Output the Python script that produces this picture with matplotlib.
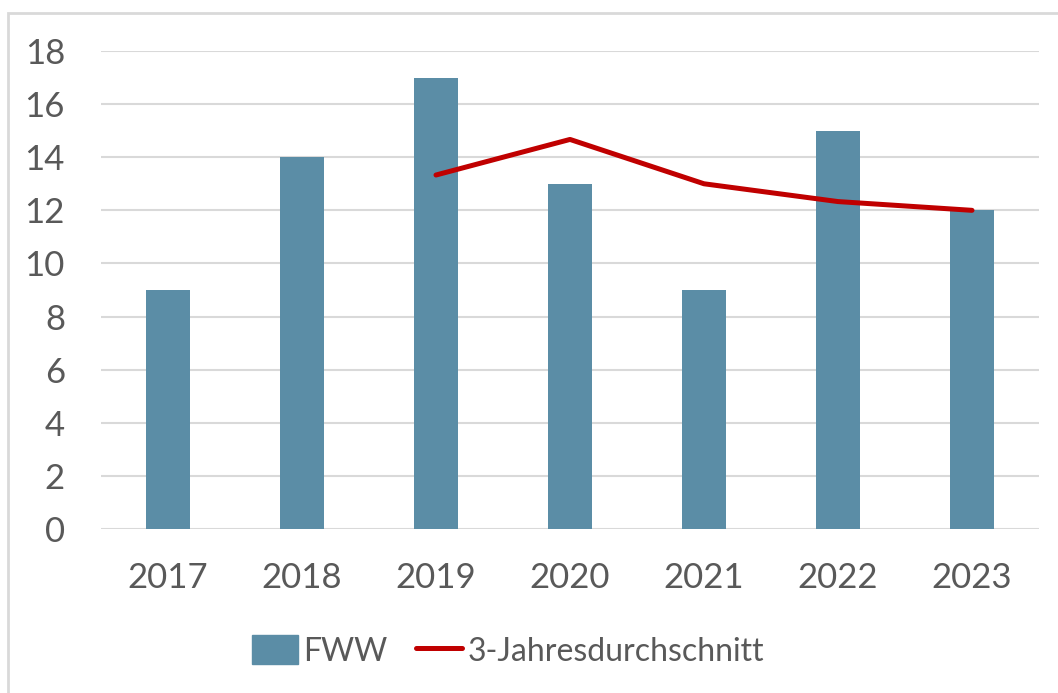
import matplotlib.pyplot as plt
from matplotlib.patches import Rectangle
from matplotlib.lines import Line2D

years = ['2017', '2018', '2019', '2020', '2021', '2022', '2023']
fww = [9, 14, 17, 13, 9, 15, 12]
avg_years = ['2019', '2020', '2021', '2022', '2023']
avg3 = [13.33, 14.67, 13.0, 12.33, 12.0]

plt.rcParams['font.family'] = ['Lato', 'DejaVu Sans']
txt = '#595959'

fig = plt.figure(figsize=(10.58, 6.93), dpi=100)
# chart area border (light grey, running off right/bottom edge)
fig.patches.append(Rectangle((8 / 1058, -0.05), 1.2, 1 - 13 / 693 + 0.05,
                             transform=fig.transFigure, fill=False,
                             edgecolor='#D9D9D9', linewidth=2))

ax = fig.add_axes([101 / 1058, 1 - 529 / 693, 938 / 1058, 478 / 693])
x = list(range(len(years)))
ax.bar(x, fww, width=0.33, color='#5B8DA6', zorder=2, label='FWW')
xa = [years.index(y) for y in avg_years]
ax.plot(xa, avg3, color='#C00000', linewidth=3.6, zorder=3,
        solid_capstyle='round', label='3-Jahresdurchschnitt')

ax.set_xlim(-0.5, 6.5)
ax.set_ylim(0, 18)
ax.set_yticks(range(0, 19, 2))
ax.set_xticks(x)
ax.set_xticklabels(years)
ax.grid(axis='y', color='#D9D9D9', linewidth=1.5, zorder=0)
for s in ax.spines.values():
    s.set_visible(False)
ax.tick_params(length=0, labelsize=25, colors=txt, pad=0)
ax.tick_params(axis='y', pad=26)
ax.tick_params(axis='x', pad=24)

handles = [Rectangle((0, 0), 1, 1, color='#5B8DA6'),
           Line2D([0], [0], color='#C00000', linewidth=3.6, solid_capstyle='round')]
fig.legend(handles, ['FWW', '3-Jahresdurchschnitt'], loc='center left',
           bbox_to_anchor=(236 / 1058, 1 - 651 / 693), ncol=2, frameon=False,
           borderpad=0, fontsize=23, labelcolor=txt, handlelength=1.45,
           handleheight=1.0, handletextpad=0.15, columnspacing=0.9)

fig.savefig('out.png', dpi=100)
